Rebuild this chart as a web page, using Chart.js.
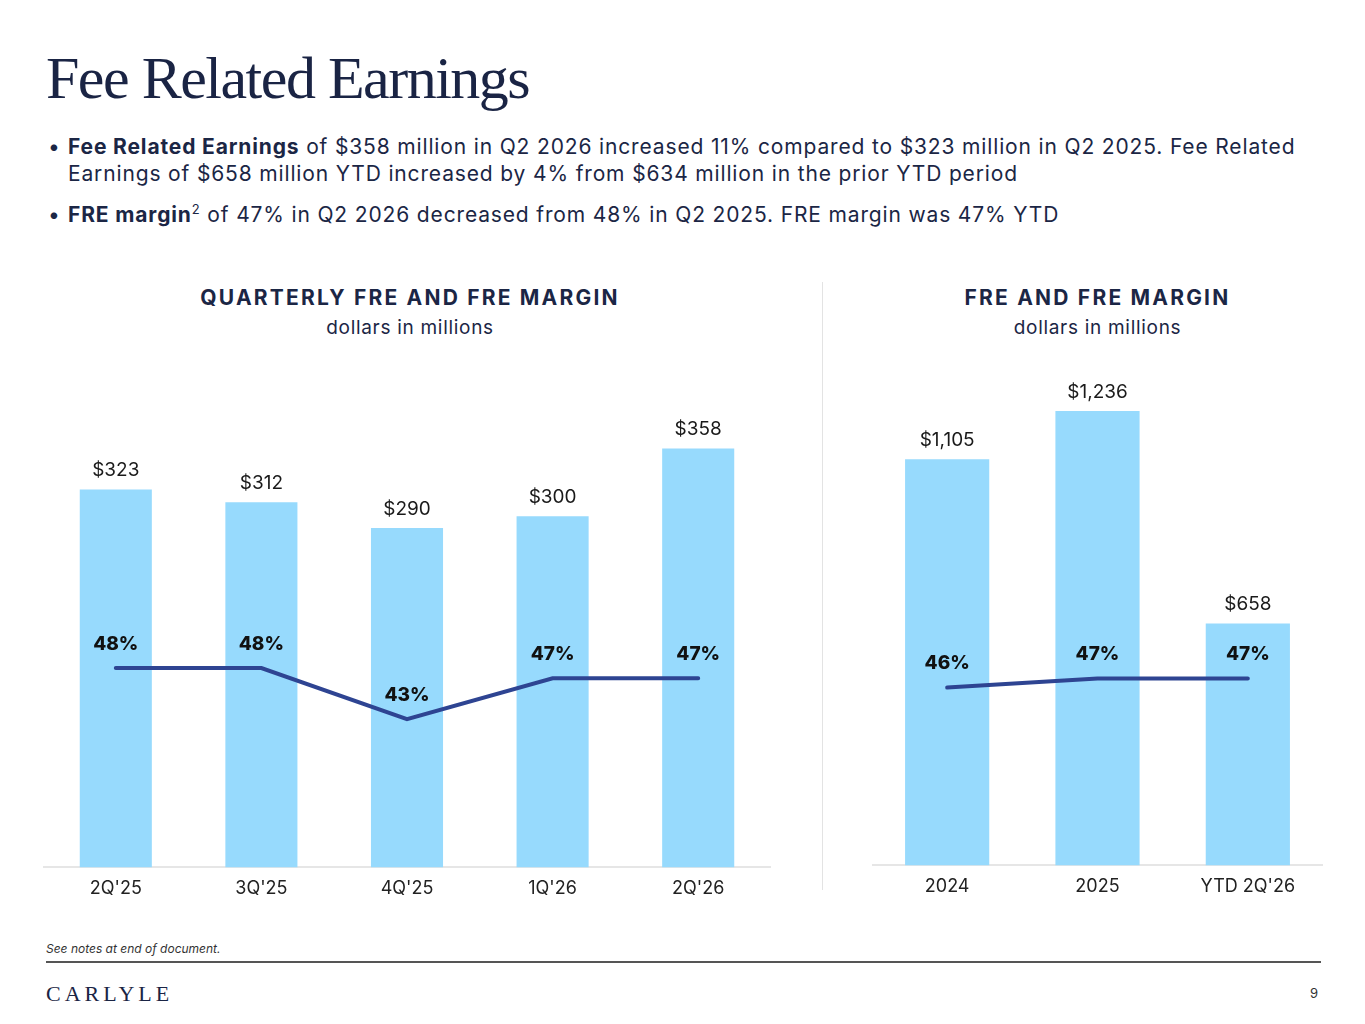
<!DOCTYPE html>
<html>
<head>
<meta charset="utf-8">
<script src="https://cdn.jsdelivr.net/npm/chart.js@4.4.1/dist/chart.umd.min.js"></script>
<style>
  html, body { margin: 0; padding: 0; background: #fff; }
  #slide { position: relative; width: 1365px; height: 1024px; overflow: hidden; font-family: Inter, "Noto Sans", sans-serif; color: #1b2645; }
  .title { position: absolute; left: 46px; top: 44px; font-family: "Liberation Serif", "DejaVu Serif", serif; font-size: 60px; letter-spacing: -1.5px; color: #1a2444; }
  .bullets { position: absolute; left: 48px; top: 133px; width: 1275px; font-size: 21px; letter-spacing: 0.85px; line-height: 27px; }
  .bullet { position: relative; padding-left: 20px; margin-bottom: 14px; }
  .bullet::before { content: "\2022"; position: absolute; left: 0; top: 0; }
  .bullet b { font-weight: 700; }
  .bullet sup { font-size: 13px; line-height: 0; }
  .head { position: absolute; text-align: center; font-size: 21px; font-weight: 700; letter-spacing: 2.2px; }
  .sub { position: absolute; text-align: center; font-size: 19px; letter-spacing: 0.7px; }
  .divider { position: absolute; left: 822px; top: 282px; width: 1px; height: 608px; background: #e3e3e3; }
  .chartbox { position: absolute; }
  .note { position: absolute; left: 46px; top: 941px; font-size: 12px; font-style: italic; color: #333; }
  .rule { position: absolute; left: 46px; top: 961px; width: 1275px; height: 2px; background: #555; }
  .logo { position: absolute; left: 46px; top: 981px; font-family: "Liberation Serif", serif; font-size: 22px; letter-spacing: 4px; color: #1a2444; }
  .page { position: absolute; left: 1310px; top: 985px; font-size: 13px; color: #333; }
</style>
</head>
<body>
<div id="slide">
  <div class="title">Fee Related Earnings</div>
  <div class="bullets">
    <div class="bullet"><b>Fee Related Earnings</b> of $358 million in Q2 2026 increased 11% compared to $323 million in Q2 2025. Fee Related Earnings of $658 million YTD increased by 4% from $634 million in the prior YTD period</div>
    <div class="bullet"><b>FRE margin</b><sup>2</sup> of 47% in Q2 2026 decreased from 48% in Q2 2025. FRE margin was 47% YTD</div>
  </div>

  <div class="head" style="left:44px; width:732px; top:285px;">QUARTERLY FRE AND FRE MARGIN</div>
  <div class="sub" style="left:44px; width:732px; top:316px;">dollars in millions</div>
  <div class="head" style="left:872px; width:451px; top:285px;">FRE AND FRE MARGIN</div>
  <div class="sub" style="left:872px; width:451px; top:316px;">dollars in millions</div>
  <div class="divider"></div>

  <div class="chartbox" style="left:43px; top:349px; width:728px; height:560px;"><canvas id="quarterly"></canvas></div>
  <div class="chartbox" style="left:872px; top:349px; width:451px; height:558px;"><canvas id="annual"></canvas></div>

  <div class="note">See notes at end of document.</div>
  <div class="rule"></div>
  <div class="logo">CARLYLE</div>
  <div class="page">9</div>
</div>

<script>
const quarterLabels = ["2Q'25", "3Q'25", "4Q'25", "1Q'26", "2Q'26"];
const quarterFre = [323, 312, 290, 300, 358];
const quarterMargin = [48, 48, 43, 47, 47];

const annualLabels = ["2024", "2025", "YTD 2Q'26"];
const annualFre = [1105, 1236, 658];
const annualMargin = [46, 47, 47];

const barColor = "#97dafd";
const lineColor = "#2e4492";

// draws the "$x" labels over bars and bold "%" labels over the line
const valueLabels = {
  id: "valueLabels",
  afterDatasetsDraw(chart) {
    const ctx = chart.ctx;
    ctx.save();
    ctx.textAlign = "center";
    ctx.textBaseline = "middle";
    const bars = chart.getDatasetMeta(0);
    const line = chart.getDatasetMeta(1);
    bars.data.forEach((el, i) => {
      ctx.font = "19px Inter, sans-serif";
      ctx.fillStyle = "#1a1a1a";
      ctx.fillText("$" + chart.data.datasets[0].data[i].toLocaleString("en-US"), el.x, el.y - 19);
    });
    line.data.forEach((el, i) => {
      ctx.font = "800 19px Inter, sans-serif";
      ctx.fillStyle = "#111";
      ctx.fillText(chart.data.datasets[1].data[i] + "%", el.x, el.y - 24);
    });
    ctx.restore();
  }
};

function makeChart(id, labels, fre, margin, barPct, yMax, y1Min, y1Max) {
  return new Chart(document.getElementById(id), {
    data: {
      labels,
      datasets: [
        {
          type: "bar",
          data: fre,
          backgroundColor: barColor,
          barPercentage: barPct,
          categoryPercentage: 1,
          yAxisID: "y",
          order: 2,
        },
        {
          type: "line",
          data: margin,
          borderColor: lineColor,
          borderWidth: 4,
          borderCapStyle: "round",
          pointRadius: 0,
          tension: 0,
          yAxisID: "y1",
          order: 1,
        },
      ],
    },
    options: {
      responsive: true,
      maintainAspectRatio: false,
      animation: false,
      layout: { padding: 0 },
      plugins: { legend: { display: false }, tooltip: { enabled: false } },
      scales: {
        x: {
          grid: { display: false, drawTicks: false },
          border: { color: "#e6e6e6", width: 2 },
          ticks: { color: "#222", font: { family: "Inter", size: 18 }, padding: 10 },
        },
        y: { display: false, min: 0, max: yMax },
        y1: { display: false, min: y1Min, max: y1Max },
      },
    },
    plugins: [valueLabels],
  });
}

makeChart("quarterly", quarterLabels, quarterFre, quarterMargin, 0.495, 443, 28.5, 79.2);
makeChart("annual", annualLabels, annualFre, annualMargin, 0.56, 1405, 26.3, 83.5);
</script>
</body>
</html>
